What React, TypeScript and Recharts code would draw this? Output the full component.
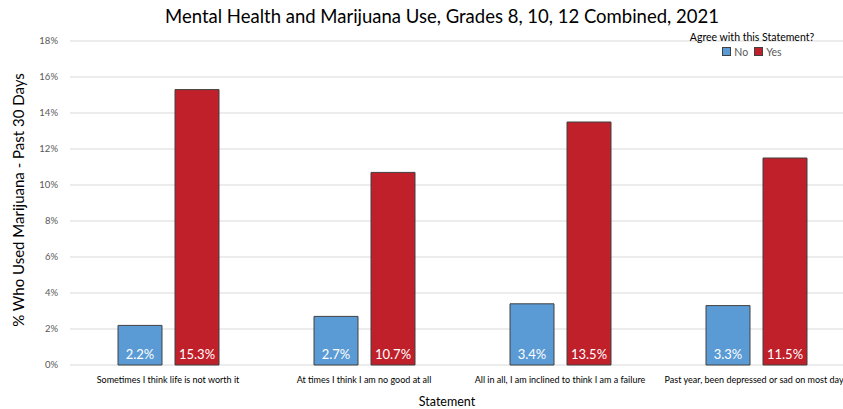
import React from 'react';
import { BarChart, Bar, XAxis, YAxis, CartesianGrid, LabelList } from 'recharts';

const statements = [
  'Sometimes I think life is not worth it',
  'At times I think I am no good at all',
  'All in all, I am inclined to think I am a failure',
  'Past year, been depressed or sad on most days',
];
const noValues = [2.2, 2.7, 3.4, 3.3];
const yesValues = [15.3, 10.7, 13.5, 11.5];
const yTicks = [0, 2, 4, 6, 8, 10, 12, 14, 16, 18];

const data = statements.map((s, i) => ({ statement: s, No: noValues[i], Yes: yesValues[i] }));

const FONT = 'Lato, "Open Sans", sans-serif';

const LegendBox = () => (
  <div style={{ position: 'absolute', top: 31, left: 672, fontFamily: FONT, fontSize: 10.5, color: '#000', textAlign: 'center', width: 160 }}>
    <div>Agree with this Statement?</div>
    <div style={{ color: '#595959', marginTop: 3 }}>
      <span style={{ display: 'inline-block', width: 7, height: 7, background: '#5B9BD5', border: '1px solid #404040', marginRight: 3 }} />
      No
      <span style={{ display: 'inline-block', width: 7, height: 7, background: '#C0202A', border: '1px solid #404040', marginLeft: 6, marginRight: 3 }} />
      Yes
    </div>
  </div>
);

export default function App() {
  return (
    <div style={{ position: 'absolute', left: 0, top: 0, width: 843, height: 409, overflow: 'hidden', background: '#fff', fontFamily: FONT }}>
      <div style={{ position: 'absolute', left: 0, top: 0 }}>
        <BarChart width={870} height={409} data={data} margin={{ top: 41, right: 16, left: 0, bottom: 14 }} barSize={44} barGap={13}>
          <CartesianGrid vertical={false} stroke="#D9D9D9" />
          <XAxis dataKey="statement" axisLine={false} tickLine={false} interval={0} height={30}
            tick={{ fontSize: 9, fill: '#000', fontFamily: FONT }} tickMargin={6} />
          <YAxis domain={[0, 18]} ticks={yTicks} width={70} axisLine={false} tickLine={false}
            tickFormatter={(v: number) => `${v}%`} tick={{ fontSize: 9.5, fill: '#595959', fontFamily: FONT }} tickMargin={6} />
          <Bar dataKey="No" fill="#5B9BD5" stroke="#404040" strokeWidth={1} isAnimationActive={false}>
            <LabelList dataKey="No" position="insideBottom" offset={6} fill="#fff" fontSize={13} fontFamily={FONT}
              formatter={(v: number) => `${v.toFixed(1)}%`} />
          </Bar>
          <Bar dataKey="Yes" fill="#C0202A" stroke="#404040" strokeWidth={1} isAnimationActive={false}>
            <LabelList dataKey="Yes" position="insideBottom" offset={6} fill="#fff" fontSize={13} fontFamily={FONT}
              formatter={(v: number) => `${v.toFixed(1)}%`} />
          </Bar>
        </BarChart>
      </div>
      <div style={{ position: 'absolute', top: 5, left: 0, width: 884, textAlign: 'center', fontSize: 18.5, color: '#000', whiteSpace: 'nowrap' }}>
        Mental Health and Marijuana Use, Grades 8, 10, 12 Combined, 2021
      </div>
      <div style={{ position: 'absolute', left: 18, top: 200, transform: 'translate(-50%, -50%) rotate(-90deg)', whiteSpace: 'nowrap', fontSize: 15, color: '#000' }}>
        % Who Used Marijuana - Past 30 Days
      </div>
      <div style={{ position: 'absolute', left: 0, width: 894, top: 394, textAlign: 'center', fontSize: 12.5, color: '#000' }}>
        Statement
      </div>
      <LegendBox />
    </div>
  );
}
